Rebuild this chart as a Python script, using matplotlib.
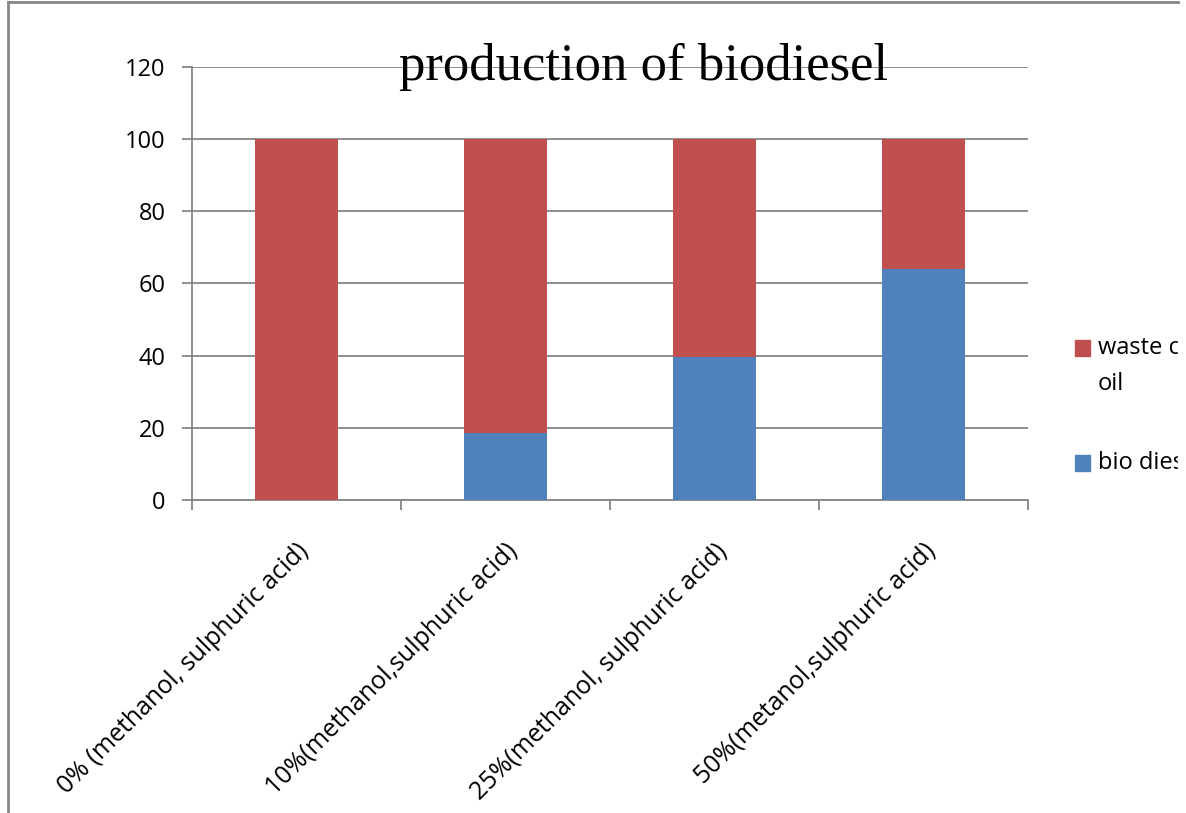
import matplotlib.pyplot as plt
from matplotlib.patches import Rectangle
from matplotlib.lines import Line2D

categories = ["0% (methanol, sulphuric acid)",
              "10%(methanol,sulphuric acid)",
              "25%(methanol, sulphuric acid)",
              "50%(metanol,sulphuric acid)"]
bio_diesel = [0, 18.5, 39.5, 64]
waste_oil = [100, 81.5, 60.5, 36]
series_names = ["waste cooking\noil", "bio diesel"]

RED = "#C0504D"
BLUE = "#4F81BD"
GRAY = "#868686"
W, H = 1186, 813

fig = plt.figure(figsize=(W / 100, H / 100), dpi=100)
ax = fig.add_axes([192 / W, 1 - 500 / H, (1028 - 192) / W, (500 - 67) / H])

x = list(range(len(categories)))
ax.bar(x, bio_diesel, width=0.395, color=BLUE, zorder=3)
ax.bar(x, waste_oil, width=0.395, bottom=bio_diesel, color=RED, zorder=3)

ax.set_xlim(-0.5, len(categories) - 0.5)
ax.set_ylim(0, 120)
ax.set_yticks(range(0, 121, 20))
ax.yaxis.grid(True, color=GRAY, lw=1.3, zorder=0)
ax.set_axisbelow(True)

for s in ["top", "right"]:
    ax.spines[s].set_visible(False)
for s in ["left", "bottom"]:
    ax.spines[s].set_color(GRAY)
    ax.spines[s].set_linewidth(1.3)

ax.set_xticks(x)
ax.set_xticklabels(categories, rotation=45, ha="right", va="top",
                   rotation_mode="anchor", fontsize=18, family="Open Sans")
ax.set_xticks([i - 0.5 for i in range(len(categories) + 1)], minor=True)
ax.tick_params(axis="x", which="major", length=0, pad=28)
ax.tick_params(axis="x", which="minor", length=7, width=1.3, color=GRAY)
ax.tick_params(axis="y", length=7, width=1.3, color=GRAY, pad=12)
for t in ax.get_yticklabels():
    t.set_fontsize(17)
    t.set_family("Open Sans")

ax.text(0.54, 120, "production of biodiesel", ha="center", va="center",
        transform=ax.get_yaxis_transform(), fontsize=38,
        family="Liberation Serif", zorder=4)

# legend drawn by hand, clipped by the chart frame
legend_items = [(series_names[0], RED, 348), (series_names[1], BLUE, 463)]
for label, color, yc in legend_items:
    fig.add_artist(Rectangle((1075 / W, 1 - (yc + 8) / H), 15 / W, 16 / H,
                             transform=fig.transFigure, color=color))
    fig.text(1098 / W, 1 - (yc - 12) / H, label, ha="left", va="top",
             fontsize=17, family="Open Sans", linespacing=1.65)

# white mask beyond the chart frame
fig.add_artist(Rectangle((1178 / W, 0), 1, 1, transform=fig.transFigure,
                         color="white", zorder=10))
# chart frame
fig.add_artist(Line2D([8 / W, 1178 / W], [1 - 2 / H, 1 - 2 / H],
                      transform=fig.transFigure, color=GRAY, lw=2, zorder=11))
fig.add_artist(Line2D([8 / W, 8 / W], [0, 1 - 2 / H],
                      transform=fig.transFigure, color=GRAY, lw=2, zorder=11))

fig.savefig("out.png", dpi=100)
